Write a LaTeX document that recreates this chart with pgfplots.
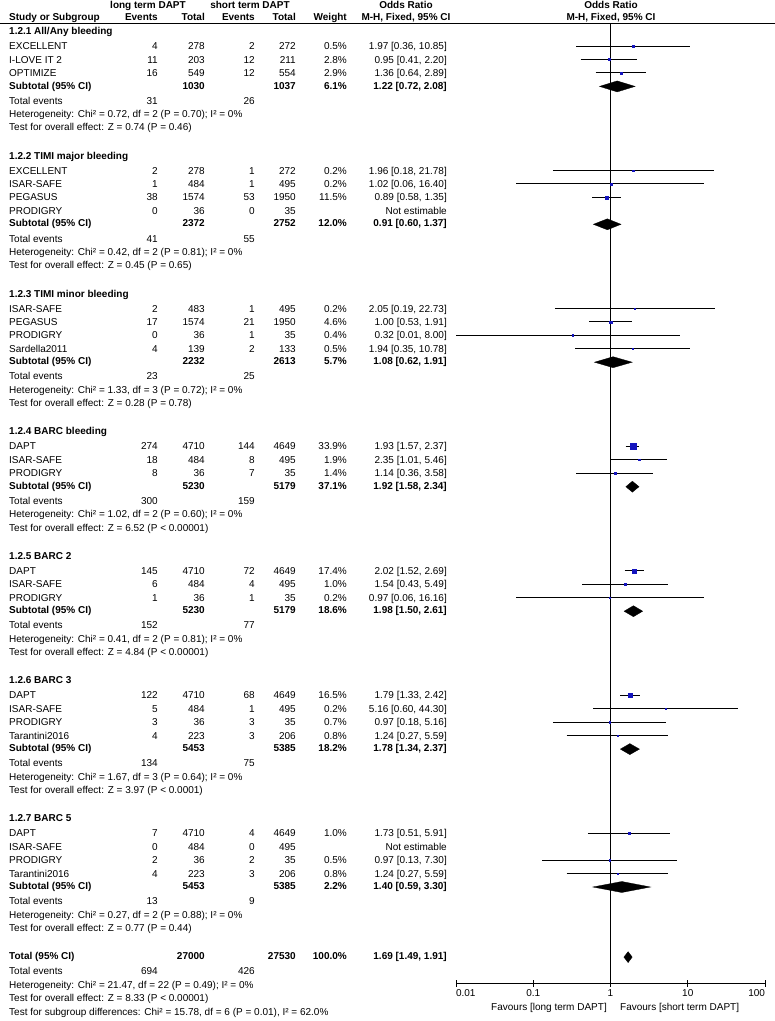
\documentclass[border=0pt]{standalone}
\usepackage{pgfplots}
\pgfplotsset{compat=1.18}
\usepackage{fontspec}
\setmainfont{Liberation Sans}
\definecolor{mk}{RGB}{20,20,190}

% text row helpers: y (px from top), then columns
\newcommand{\Row}[8]{%
 \node[anchor=base west] at (9pt,{-(#1+3.6)*1pt}) {#2};
 \node[anchor=base east] at (158pt,{-(#1+3.6)*1pt}) {#3};
 \node[anchor=base east] at (205pt,{-(#1+3.6)*1pt}) {#4};
 \node[anchor=base east] at (255pt,{-(#1+3.6)*1pt}) {#5};
 \node[anchor=base east] at (296pt,{-(#1+3.6)*1pt}) {#6};
 \node[anchor=base east] at (347pt,{-(#1+3.6)*1pt}) {#7};
 \node[anchor=base east] at (447pt,{-(#1+3.6)*1pt}) {#8};}
\newcommand{\BRow}[8]{\Row{#1}{\textbf{#2}}{\textbf{#3}}{\textbf{#4}}{\textbf{#5}}{\textbf{#6}}{\textbf{#7}}{\textbf{#8}}}
\newcommand{\Txt}[2]{\node[anchor=base west] at (9pt,{-(#1+3.6)*1pt}) {#2};}
\newcommand{\TE}[3]{%
 \node[anchor=base west] at (9pt,{-(#1+3.6)*1pt}) {Total events};
 \node[anchor=base east] at (158pt,{-(#1+3.6)*1pt}) {#2};
 \node[anchor=base east] at (255pt,{-(#1+3.6)*1pt}) {#3};}
% plot helpers
\newcommand{\CI}[3]{\addplot[black, line width=0.9pt] coordinates {(#2,-#1) (#3,-#1)};}
\newcommand{\Dia}[4]{\addplot[black, fill=black, line width=0.3pt] coordinates {(#2,-#1) (#3,-#1+5.5) (#4,-#1) (#3,-#1-5.5)} --cycle;}

\pgfplotstableread{
y est ms
-46 1.97 0.7
-59.4 0.95 0.9
-72.8 1.36 0.9
-170.5 1.96 0.7
-183.9 1.02 0.7
-197.3 0.89 1.7
-308.4 2.05 0.7
-321.8 1.00 1.1
-335.2 0.32 0.7
-348.6 1.94 0.7
-446.3 1.93 3.0
-459.7 2.35 0.8
-473.1 1.14 0.7
-570.8 2.02 2.2
-584.2 1.54 0.7
-597.6 0.97 0.7
-695.3 1.79 2.1
-708.7 5.16 0.7
-722.1 0.97 0.7
-735.5 1.24 0.7
-833.2 1.73 0.7
-860.0 0.97 0.7
-873.4 1.24 0.7
}\studies

\begin{document}
\begin{tikzpicture}[font=\fontsize{10}{12}\selectfont, every node/.style={inner sep=0pt}]
\useasboundingbox (0,0) rectangle (775pt,-1021pt);

% header
\node[anchor=base] at (148pt,{-(5+3.6)*1pt}) {\textbf{long term DAPT}};
\node[anchor=base] at (250pt,{-(5+3.6)*1pt}) {\textbf{short term DAPT}};
\node[anchor=base] at (406pt,{-(5+3.6)*1pt}) {\textbf{Odds Ratio}};
\node[anchor=base] at (611pt,{-(5+3.6)*1pt}) {\textbf{Odds Ratio}};
\BRow{17}{Study or Subgroup}{Events}{Total}{Events}{Total}{Weight}{}
\node[anchor=base] at (406pt,{-(17+3.6)*1pt}) {\textbf{M-H, Fixed, 95\% CI}};
\node[anchor=base] at (611pt,{-(17+3.6)*1pt}) {\textbf{M-H, Fixed, 95\% CI}};
\draw[line width=0.9pt] (0,-23pt) -- (775pt,-23pt);

% 1.2.1
\Txt{31}{\textbf{1.2.1 All/Any bleeding}}
\Row{46}{EXCELLENT}{4}{278}{2}{272}{0.5\%}{1.97 [0.36, 10.85]}
\Row{59.4}{I-LOVE IT 2}{11}{203}{12}{211}{2.8\%}{0.95 [0.41, 2.20]}
\Row{72.8}{OPTIMIZE}{16}{549}{12}{554}{2.9\%}{1.36 [0.64, 2.89]}
\BRow{85.4}{Subtotal (95\% CI)}{}{1030}{}{1037}{6.1\%}{1.22 [0.72, 2.08]}
\TE{100.5}{31}{26}
\Txt{113.9}{Heterogeneity: Chi² = 0.72, df = 2 (P = 0.70); I² = 0\%}
\Txt{127.3}{Test for overall effect: Z = 0.74 (P = 0.46)}

% 1.2.2
\Txt{155.5}{\textbf{1.2.2 TIMI major bleeding}}
\Row{170.5}{EXCELLENT}{2}{278}{1}{272}{0.2\%}{1.96 [0.18, 21.78]}
\Row{183.9}{ISAR-SAFE}{1}{484}{1}{495}{0.2\%}{1.02 [0.06, 16.40]}
\Row{197.3}{PEGASUS}{38}{1574}{53}{1950}{11.5\%}{0.89 [0.58, 1.35]}
\Row{210.7}{PRODIGRY}{0}{36}{0}{35}{}{Not estimable}
\BRow{223.3}{Subtotal (95\% CI)}{}{2372}{}{2752}{12.0\%}{0.91 [0.60, 1.37]}
\TE{238.4}{41}{55}
\Txt{251.8}{Heterogeneity: Chi² = 0.42, df = 2 (P = 0.81); I² = 0\%}
\Txt{265.2}{Test for overall effect: Z = 0.45 (P = 0.65)}

% 1.2.3
\Txt{293.4}{\textbf{1.2.3 TIMI minor bleeding}}
\Row{308.4}{ISAR-SAFE}{2}{483}{1}{495}{0.2\%}{2.05 [0.19, 22.73]}
\Row{321.8}{PEGASUS}{17}{1574}{21}{1950}{4.6\%}{1.00 [0.53, 1.91]}
\Row{335.2}{PRODIGRY}{0}{36}{1}{35}{0.4\%}{0.32 [0.01, 8.00]}
\Row{348.6}{Sardella2011}{4}{139}{2}{133}{0.5\%}{1.94 [0.35, 10.78]}
\BRow{361.2}{Subtotal (95\% CI)}{}{2232}{}{2613}{5.7\%}{1.08 [0.62, 1.91]}
\TE{376.3}{23}{25}
\Txt{389.7}{Heterogeneity: Chi² = 1.33, df = 3 (P = 0.72); I² = 0\%}
\Txt{403.1}{Test for overall effect: Z = 0.28 (P = 0.78)}

% 1.2.4
\Txt{431.3}{\textbf{1.2.4 BARC bleeding}}
\Row{446.3}{DAPT}{274}{4710}{144}{4649}{33.9\%}{1.93 [1.57, 2.37]}
\Row{459.7}{ISAR-SAFE}{18}{484}{8}{495}{1.9\%}{2.35 [1.01, 5.46]}
\Row{473.1}{PRODIGRY}{8}{36}{7}{35}{1.4\%}{1.14 [0.36, 3.58]}
\BRow{485.7}{Subtotal (95\% CI)}{}{5230}{}{5179}{37.1\%}{1.92 [1.58, 2.34]}
\TE{500.8}{300}{159}
\Txt{514.2}{Heterogeneity: Chi² = 1.02, df = 2 (P = 0.60); I² = 0\%}
\Txt{527.6}{Test for overall effect: Z = 6.52 (P < 0.00001)}

% 1.2.5
\Txt{555.8}{\textbf{1.2.5 BARC 2}}
\Row{570.8}{DAPT}{145}{4710}{72}{4649}{17.4\%}{2.02 [1.52, 2.69]}
\Row{584.2}{ISAR-SAFE}{6}{484}{4}{495}{1.0\%}{1.54 [0.43, 5.49]}
\Row{597.6}{PRODIGRY}{1}{36}{1}{35}{0.2\%}{0.97 [0.06, 16.16]}
\BRow{610.2}{Subtotal (95\% CI)}{}{5230}{}{5179}{18.6\%}{1.98 [1.50, 2.61]}
\TE{625.3}{152}{77}
\Txt{638.7}{Heterogeneity: Chi² = 0.41, df = 2 (P = 0.81); I² = 0\%}
\Txt{652.1}{Test for overall effect: Z = 4.84 (P < 0.00001)}

% 1.2.6
\Txt{680.3}{\textbf{1.2.6 BARC 3}}
\Row{695.3}{DAPT}{122}{4710}{68}{4649}{16.5\%}{1.79 [1.33, 2.42]}
\Row{708.7}{ISAR-SAFE}{5}{484}{1}{495}{0.2\%}{5.16 [0.60, 44.30]}
\Row{722.1}{PRODIGRY}{3}{36}{3}{35}{0.7\%}{0.97 [0.18, 5.16]}
\Row{735.5}{Tarantini2016}{4}{223}{3}{206}{0.8\%}{1.24 [0.27, 5.59]}
\BRow{748.1}{Subtotal (95\% CI)}{}{5453}{}{5385}{18.2\%}{1.78 [1.34, 2.37]}
\TE{763.2}{134}{75}
\Txt{776.6}{Heterogeneity: Chi² = 1.67, df = 3 (P = 0.64); I² = 0\%}
\Txt{790.0}{Test for overall effect: Z = 3.97 (P < 0.0001)}

% 1.2.7
\Txt{818.2}{\textbf{1.2.7 BARC 5}}
\Row{833.2}{DAPT}{7}{4710}{4}{4649}{1.0\%}{1.73 [0.51, 5.91]}
\Row{846.6}{ISAR-SAFE}{0}{484}{0}{495}{}{Not estimable}
\Row{860.0}{PRODIGRY}{2}{36}{2}{35}{0.5\%}{0.97 [0.13, 7.30]}
\Row{873.4}{Tarantini2016}{4}{223}{3}{206}{0.8\%}{1.24 [0.27, 5.59]}
\BRow{886.0}{Subtotal (95\% CI)}{}{5453}{}{5385}{2.2\%}{1.40 [0.59, 3.30]}
\TE{901.1}{13}{9}
\Txt{914.5}{Heterogeneity: Chi² = 0.27, df = 2 (P = 0.88); I² = 0\%}
\Txt{927.9}{Test for overall effect: Z = 0.77 (P = 0.44)}

% Total
\BRow{956.1}{Total (95\% CI)}{}{27000}{}{27530}{100.0\%}{1.69 [1.49, 1.91]}
\TE{971.2}{694}{426}
\Txt{984.6}{Heterogeneity: Chi² = 21.47, df = 22 (P = 0.49); I² = 0\%}
\Txt{998.0}{Test for overall effect: Z = 8.33 (P < 0.00001)}
\Txt{1011.4}{Test for subgroup differences: Chi² = 15.78, df = 6 (P = 0.01), I² = 62.0\%}

\node[anchor=base east] at (607pt,{-(1007+3.6)*1pt}) {Favours [long term DAPT]};
\node[anchor=base west] at (620pt,{-(1007+3.6)*1pt}) {Favours [short term DAPT]};

\begin{axis}[
  at={(456pt,-983pt)}, anchor=south west,
  scale only axis, width=309pt, height=960pt,
  xmode=log, xmin=0.01, xmax=100, ymin=-983, ymax=-23,
  axis x line*=bottom, axis y line=none,
  xtick={0.01,0.1,1,10,100},
  xticklabels={\makebox[0pt][l]{0.01},0.1,1,10,\makebox[0pt][r]{100}},
  xminorticks=false, xtick align=center, major tick length=7pt,
  ytick=\empty,
  tick style={black, line width=0.8pt},
  axis line style={black, line width=0.8pt},
  xticklabel style={font=\fontsize{10}{12}\selectfont, inner sep=0pt, yshift=-3pt},
  clip=false,
]
\addplot[black, line width=0.9pt] coordinates {(1,-23) (1,-983)};
% 1.2.1
\CI{46}{0.36}{10.85}
\CI{59.4}{0.41}{2.20}
\CI{72.8}{0.64}{2.89}
% 1.2.2
\CI{170.5}{0.18}{21.78}
\CI{183.9}{0.06}{16.40}
\CI{197.3}{0.58}{1.35}
% 1.2.3
\CI{308.4}{0.19}{22.73}
\CI{321.8}{0.53}{1.91}
\CI{335.2}{0.01}{8.00}
\CI{348.6}{0.35}{10.78}
% 1.2.4
\CI{446.3}{1.57}{2.37}
\CI{459.7}{1.01}{5.46}
\CI{473.1}{0.36}{3.58}
% 1.2.5
\CI{570.8}{1.52}{2.69}
\CI{584.2}{0.43}{5.49}
\CI{597.6}{0.06}{16.16}
% 1.2.6
\CI{695.3}{1.33}{2.42}
\CI{708.7}{0.60}{44.30}
\CI{722.1}{0.18}{5.16}
\CI{735.5}{0.27}{5.59}
% 1.2.7
\CI{833.2}{0.51}{5.91}
\CI{860.0}{0.13}{7.30}
\CI{873.4}{0.27}{5.59}
% study squares
\addplot[scatter, only marks, mark=square*,
  scatter/use mapped color={draw=mk, fill=mk},
  mark options={line width=0.1pt},
  visualization depends on={\thisrow{ms} \as \msz},
  scatter/@pre marker code/.append style={/tikz/mark size=\msz}]
  table[x=est, y=y] {\studies};
% diamonds
\Dia{86.4}{0.72}{1.22}{2.08}
\Dia{224.3}{0.60}{0.91}{1.37}
\Dia{362.2}{0.62}{1.08}{1.91}
\Dia{486.7}{1.58}{1.92}{2.34}
\Dia{611.2}{1.50}{1.98}{2.61}
\Dia{749.1}{1.34}{1.78}{2.37}
\Dia{887.0}{0.59}{1.40}{3.30}
\Dia{957.1}{1.49}{1.69}{1.91}
\end{axis}
\end{tikzpicture}
\end{document}
